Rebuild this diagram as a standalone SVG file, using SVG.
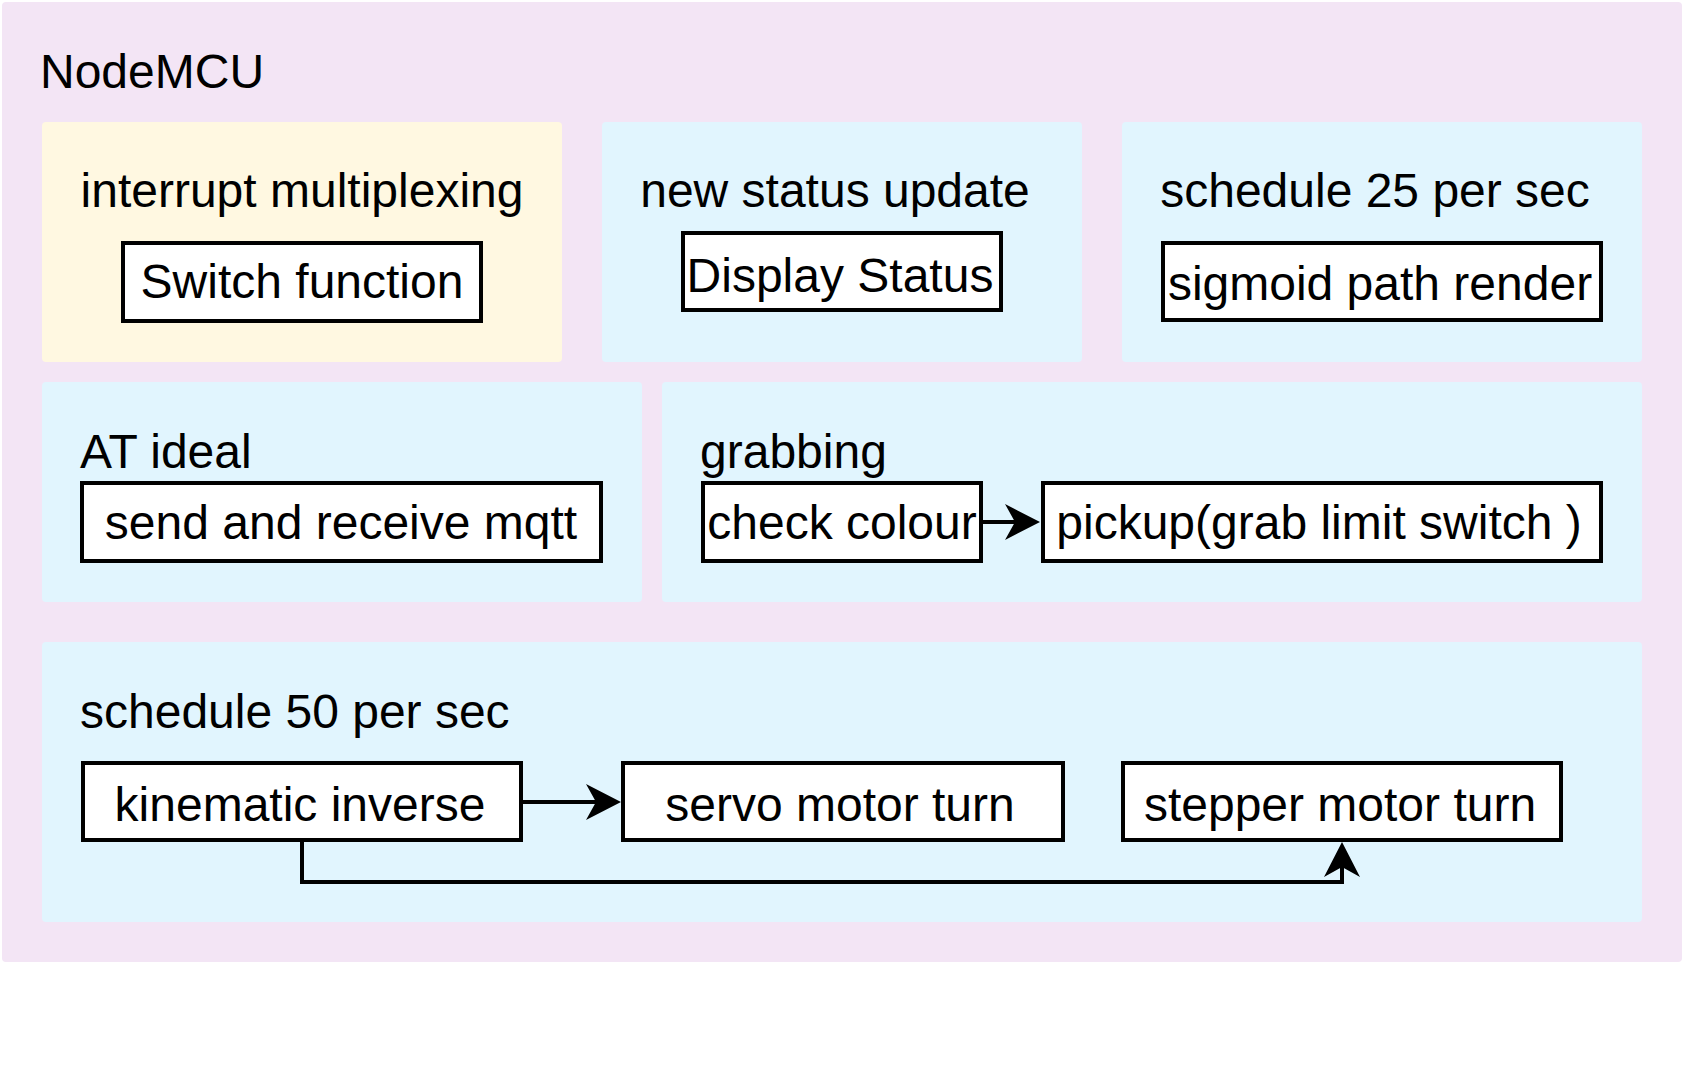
<svg xmlns="http://www.w3.org/2000/svg" width="1688" height="1080" viewBox="0 0 1688 1080">
  <style>
    text { font-family: "Liberation Sans", Arial, Helvetica, sans-serif; font-size: 48px; fill: #000000; }
    .mid { text-anchor: middle; }
    .outer { fill: #F3E5F5; }
    .grp-blue { fill: #E1F5FE; }
    .grp-yellow { fill: #FFF8E1; }
    .box { fill: #FFFFFF; stroke: #000000; stroke-width: 4; }
    .edge { fill: none; stroke: #000000; stroke-width: 4; }
  </style>
  <defs>
    <marker id="arrow" markerUnits="userSpaceOnUse" viewBox="-12 -20 40 40" markerWidth="40" markerHeight="40" refX="0" refY="0" orient="auto" overflow="visible">
      <path d="M25,0 L-10,-18 L0,0 L-10,18 Z" fill="#000000" stroke="none"/>
    </marker>
  </defs>
  <rect width="1688" height="1080" fill="#FFFFFF"/>

  <g id="nodemcu">
    <rect class="outer" x="2" y="2" width="1680" height="960" rx="4"/>
    <text x="40" y="88">NodeMCU</text>
  </g>

  <g id="interrupt-multiplexing">
    <rect class="grp-yellow" x="42" y="122" width="520" height="240" rx="4"/>
    <text class="mid" x="302" y="207">interrupt multiplexing</text>
  </g>
  <g id="switch-function">
    <rect class="box" x="123" y="243" width="358" height="78"/>
    <text class="mid" x="302" y="298">Switch function</text>
  </g>

  <g id="new-status-update">
    <rect class="grp-blue" x="602" y="122" width="480" height="240" rx="4"/>
    <text class="mid" x="835" y="207">new status update</text>
  </g>
  <g id="display-status">
    <rect class="box" x="683" y="233" width="318" height="77"/>
    <text class="mid" x="840" y="292">Display Status</text>
  </g>

  <g id="schedule-25">
    <rect class="grp-blue" x="1122" y="122" width="520" height="240" rx="4"/>
    <text class="mid" x="1375" y="207">schedule 25 per sec</text>
  </g>
  <g id="sigmoid-path-render">
    <rect class="box" x="1163" y="243" width="438" height="77"/>
    <text class="mid" x="1380" y="300">sigmoid path render</text>
  </g>

  <g id="at-ideal">
    <rect class="grp-blue" x="42" y="382" width="600" height="220" rx="4"/>
    <text x="80" y="468">AT ideal</text>
  </g>
  <g id="send-receive-mqtt">
    <rect class="box" x="82" y="483" width="519" height="78"/>
    <text class="mid" x="341" y="539">send and receive mqtt</text>
  </g>

  <g id="grabbing">
    <rect class="grp-blue" x="662" y="382" width="980" height="220" rx="4"/>
    <text x="700" y="468">grabbing</text>
  </g>
  <g id="check-colour">
    <rect class="box" x="703" y="483" width="278" height="78"/>
    <text class="mid" x="842" y="539">check colour</text>
  </g>
  <g id="pickup">
    <rect class="box" x="1043" y="483" width="558" height="78"/>
    <text class="mid" x="1319" y="539">pickup(grab limit switch )</text>
  </g>

  <g id="schedule-50">
    <rect class="grp-blue" x="42" y="642" width="1600" height="280" rx="4"/>
    <text x="80" y="728">schedule 50 per sec</text>
  </g>
  <g id="kinematic-inverse">
    <rect class="box" x="83" y="763" width="438" height="77"/>
    <text class="mid" x="300" y="821">kinematic inverse</text>
  </g>
  <g id="servo-motor-turn">
    <rect class="box" x="623" y="763" width="440" height="77"/>
    <text class="mid" x="840" y="821">servo motor turn</text>
  </g>
  <g id="stepper-motor-turn">
    <rect class="box" x="1123" y="763" width="438" height="77"/>
    <text class="mid" x="1340" y="821">stepper motor turn</text>
  </g>

  <g id="connectors">
    <path class="edge" d="M983,522 H1015" marker-end="url(#arrow)"/>
    <path class="edge" d="M523,802 H596" marker-end="url(#arrow)"/>
    <path class="edge" d="M302,842 V882 H1342 V867" marker-end="url(#arrow)"/>
  </g>
</svg>
